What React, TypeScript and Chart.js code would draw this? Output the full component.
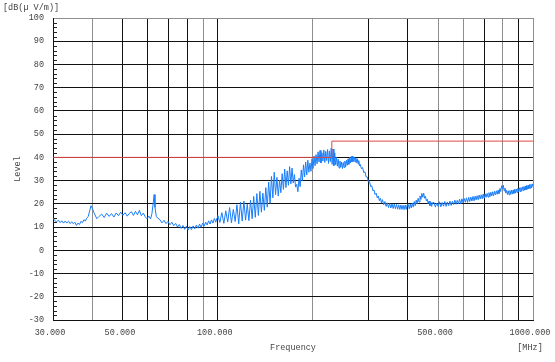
import React, { useEffect, useRef } from "react";
import { Chart, registerables } from "chart.js";

Chart.register(...registerables);

// ---- axis definitions ----
const X_TICKS = [30, 40, 50, 60, 70, 80, 90, 100, 200, 300, 400, 500, 600, 700, 800, 900, 1000];
const X_LABELED = [30, 50, 100, 500, 1000];
const X_GRAY = [40, 90, 200, 500, 600, 800, 1000];
const Y_MIN = -30;
const Y_MAX = 100;
const Y_STEP = 10;
const Y_MINOR_STEP = 2;

// ---- limit line (MHz, dBuV/m) ----
const LIMIT_FREQ = [30, 230, 230, 1000];
const LIMIT_LEVEL = [40, 40, 47, 47];

// ---- measured trace, segment by segment (MHz, dBuV/m) ----
const FREQ_A = [30, 30.4, 30.8, 31.2, 31.6, 32, 32.4, 32.8, 33.2, 33.6, 34, 34.4, 34.8, 35.2, 35.6, 36, 36.4, 36.8, 37.2, 37.6, 38, 38.4, 38.8, 39.2, 39.6, 40, 40.4, 40.8, 41.3];
const LEVEL_A = [13.8, 12.8, 12.2, 13.0, 11.9, 12.7, 11.7, 12.6, 11.8, 12.5, 11.5, 12.3, 11.4, 12.1, 10.7, 11.7, 11.1, 12.5, 11.9, 13.2, 12.6, 13.9, 14.5, 16.9, 19.2, 18.0, 16.4, 15.2, 13.6];

const FREQ_B = [42, 42.8, 43.6, 44.4, 45.2, 46, 46.8, 47.6, 48.4, 49.2, 50, 50.8, 51.6, 52.4, 53.2, 54, 54.8, 55.6, 56.4, 57.2, 58, 58.8, 59.6, 60.4, 61.2, 61.8, 62.4, 62.8, 63.2, 63.8, 64.5];
const LEVEL_B = [14.6, 15.6, 14.1, 16.0, 14.6, 15.8, 14.3, 16.1, 14.9, 16.4, 15.1, 16.2, 14.7, 15.9, 16.6, 15.0, 16.8, 15.3, 17.2, 14.9, 16.0, 14.5, 13.6, 14.7, 13.5, 15.8, 20.5, 24.0, 18.5, 14.6, 13.8];

const FREQ_C = [65.5, 66.5, 67.5, 68.5, 69.5, 70.5, 71.5, 72.5, 73.5, 74.5, 75.5, 76.5, 77.5, 78.5, 79.5, 80.5, 81.5, 82.5, 83.5, 84.5, 85.5, 86.5, 87.5, 88.5, 89.5, 90.5, 91.5, 92.5, 93.5, 94.5, 95.5, 96.5, 97.5, 98.5, 99.5];
const LEVEL_C = [13.2, 11.8, 12.9, 11.5, 12.4, 11.0, 12.1, 10.6, 11.6, 10.0, 11.1, 9.4, 10.7, 9.0, 10.4, 8.7, 10.2, 8.9, 10.5, 9.2, 10.9, 9.5, 11.3, 9.9, 11.7, 10.4, 12.1, 10.9, 12.7, 11.3, 13.1, 11.7, 13.7, 12.1, 14.0];

const FREQ_D = [100.0, 101.5, 103.0, 104.5, 106.0, 107.5, 109.0, 110.5, 112.0, 113.5, 115.0, 116.5, 118.0, 119.5, 121.0, 122.5, 124.0, 125.5, 127.0, 128.5, 130.0, 131.5, 133.0, 134.5, 136.0, 137.5, 139.0, 140.5, 142.0, 143.5, 145.0, 146.5, 148.0, 149.5, 151.0, 152.5, 154.0, 155.5, 157.0, 158.5, 160.0, 161.5, 163.0, 164.5, 166.0, 167.5, 169.0, 170.5, 172.0, 173.5, 175.0, 176.5, 178.0, 179.5, 181.0, 182.5, 184.0, 185.5, 187.0, 188.5, 190.0, 191.5, 193.0, 194.5, 196.0, 197.5, 199.0, 200.5, 202.0, 203.5, 205.0, 206.5, 208.0, 209.5, 211.0, 212.5, 214.0, 215.5, 217.0, 218.5, 220.0, 221.5, 223.0, 224.5, 226.0, 227.5, 229.0, 230.5, 232.0, 233.5, 235.0, 236.5];
const LEVEL_D = [15.0, 12.0, 16.2, 11.6, 17.0, 12.2, 18.4, 11.8, 17.6, 12.4, 19.6, 11.4, 20.8, 12.6, 21.2, 13.0, 19.8, 12.8, 21.6, 13.6, 23.2, 14.2, 24.4, 15.0, 25.4, 16.4, 24.6, 17.2, 27.0, 18.6, 29.4, 20.2, 31.8, 22.6, 33.6, 24.0, 31.4, 23.4, 30.2, 24.8, 33.0, 26.2, 35.0, 27.0, 34.2, 28.0, 36.0, 28.6, 35.4, 29.0, 32.6, 27.2, 28.4, 25.2, 31.0, 27.4, 34.6, 30.0, 36.8, 31.6, 38.0, 32.4, 38.8, 33.6, 37.6, 34.0, 39.4, 35.2, 40.6, 36.4, 41.2, 37.2, 42.4, 38.0, 43.0, 37.6, 42.0, 38.4, 43.2, 37.8, 42.6, 38.6, 43.4, 37.4, 42.8, 38.2, 44.0, 37.0, 43.6, 36.4, 42.0, 36.8];

const FREQ_E = [238, 239.5, 241, 242.5, 244, 245.5, 247, 248.5, 250, 251.5, 253, 254.5, 256, 257.5, 259, 260.5, 262, 263.5, 265, 266.5, 268, 269.5, 271, 272.5, 274, 275.5, 277, 278.5, 280, 281.5];
const LEVEL_E = [40.0, 36.2, 39.2, 35.4, 38.4, 35.8, 38.0, 35.2, 37.8, 35.6, 38.4, 36.0, 38.8, 36.6, 39.4, 37.0, 40.0, 37.6, 40.4, 38.0, 40.6, 38.2, 40.2, 38.0, 39.8, 37.8, 39.4, 37.2, 38.6, 36.4];

const FREQ_F = [283, 285.5, 288, 290.5, 293, 295.5, 298, 300.5, 303, 305.5, 308, 310.5, 313, 315.5, 318, 320.5, 323, 325.5, 328, 330.5, 333, 336, 339, 342, 345, 348, 351, 354, 357, 360, 363, 366, 369, 372, 375, 378, 381, 384, 387, 390, 393, 396, 399];
const LEVEL_F = [37.0, 35.2, 35.6, 33.4, 33.8, 31.6, 31.6, 29.4, 29.6, 27.4, 27.8, 25.6, 26.0, 24.0, 24.6, 22.6, 23.4, 21.4, 22.4, 20.4, 21.8, 19.6, 21.0, 18.9, 20.4, 18.4, 20.2, 18.2, 20.0, 18.0, 19.9, 17.9, 19.8, 17.7, 19.6, 17.6, 19.5, 17.6, 19.4, 17.5, 19.5, 17.6, 19.6];

const FREQ_G = [402, 405, 408, 411, 414, 417, 420, 423, 426, 429, 432, 435, 438, 441, 444, 447, 450, 453, 456, 459, 462, 465, 468, 471, 474, 477, 480];
const LEVEL_G = [19.8, 17.9, 19.9, 18.2, 20.3, 18.6, 21.0, 19.2, 21.6, 20.0, 22.4, 20.8, 23.4, 21.9, 24.5, 22.8, 24.6, 22.4, 23.2, 21.2, 22.0, 20.1, 21.2, 19.2, 20.8, 18.9, 20.5];

const FREQ_H = [485, 490, 495, 500, 505, 510, 515, 520, 525, 530, 535, 540, 545, 550, 555, 560, 565, 570, 575, 580, 585, 590, 595, 600, 605, 610, 615, 620, 625, 630, 635, 640, 645, 650, 655, 660, 665, 670, 675, 680, 685, 690, 695, 700, 705, 710, 715, 720, 725, 730, 735, 740, 745, 750, 755, 760, 765, 770, 775, 780, 785, 790, 795, 800, 805, 810, 815, 820, 825, 830, 835, 840, 845, 850, 855, 860, 865, 870, 875, 880, 885, 890, 895, 900, 905, 910, 915, 920, 925, 930, 935, 940, 945, 950, 955, 960, 965, 970, 975, 980, 985, 990, 995, 1000];
const LEVEL_H = [20.6, 18.6, 20.3, 18.9, 20.9, 18.7, 20.6, 19.0, 21.0, 18.9, 20.8, 19.2, 21.2, 19.3, 21.1, 19.7, 21.6, 19.8, 21.5, 20.1, 22.0, 20.0, 22.2, 20.4, 22.3, 20.7, 22.6, 20.6, 22.8, 21.0, 22.9, 21.2, 23.2, 21.3, 23.3, 21.7, 23.5, 21.8, 23.8, 22.1, 23.9, 22.2, 24.2, 22.4, 24.3, 22.8, 24.5, 22.9, 24.8, 23.1, 25.0, 23.4, 25.2, 23.5, 25.4, 23.9, 25.6, 24.1, 25.9, 24.4, 26.6, 25.3, 27.8, 26.4, 28.0, 25.6, 26.8, 24.6, 25.8, 24.0, 25.6, 23.9, 25.7, 24.1, 25.9, 24.2, 26.0, 24.5, 26.3, 24.6, 26.4, 24.9, 26.6, 25.1, 26.9, 25.3, 27.0, 25.4, 27.3, 25.7, 27.4, 25.9, 27.7, 26.0, 27.9, 26.3, 28.0, 26.5, 28.3, 26.7, 28.4, 26.9, 28.6, 27.4];

const TRACE_FREQ = [...FREQ_A, ...FREQ_B, ...FREQ_C, ...FREQ_D, ...FREQ_E, ...FREQ_F, ...FREQ_G, ...FREQ_H];
const TRACE_LEVEL = [...LEVEL_A, ...LEVEL_B, ...LEVEL_C, ...LEVEL_D, ...LEVEL_E, ...LEVEL_F, ...LEVEL_G, ...LEVEL_H];

const FONT_FAMILY = "'Liberation Mono', 'Courier New', monospace";
const TEXT_COLOR = "#444";

const unitsPlugin = {
  id: "unitsAndMinorTicks",
  beforeDatasetsDraw(chart: any) {
    const { ctx, chartArea, scales } = chart;
    const y = scales.y;
    ctx.save();
    ctx.strokeStyle = "#222";
    ctx.lineWidth = 1;
    ctx.beginPath();
    for (let v = Y_MIN; v <= Y_MAX; v += Y_MINOR_STEP) {
      if (v % Y_STEP === 0) continue;
      const py = Math.round(y.getPixelForValue(v)) + 0.5;
      ctx.moveTo(chartArea.left, py);
      ctx.lineTo(chartArea.left + 4, py);
    }
    ctx.stroke();
    ctx.restore();
  },
  afterDraw(chart: any) {
    const { ctx } = chart;
    ctx.save();
    ctx.fillStyle = TEXT_COLOR;
    ctx.font = `8.5px ${FONT_FAMILY}`;
    ctx.textBaseline = "middle";
    ctx.textAlign = "left";
    ctx.fillText("[dB(\u00b5 V/m)]", 3, 8);
    ctx.textAlign = "center";
    ctx.fillText("[MHz]", 530, 348);
    ctx.restore();
  },
};

export default function App() {
  const ref = useRef<HTMLCanvasElement | null>(null);

  useEffect(() => {
    if (!ref.current) return;
    const trace = TRACE_FREQ.map((f, i) => ({ x: f, y: TRACE_LEVEL[i] }));
    const limit = LIMIT_FREQ.map((f, i) => ({ x: f, y: LIMIT_LEVEL[i] }));
    const chart = new Chart(ref.current, {
      type: "line",
      data: {
        datasets: [
          {
            label: "Limit",
            data: limit,
            borderColor: "#e04848",
            borderWidth: 1,
            pointRadius: 0,
            tension: 0,
          },
          {
            label: "Level",
            data: trace,
            borderColor: "rgb(24,125,250)",
            borderWidth: 1,
            pointRadius: 0,
            tension: 0,
          },
        ],
      },
      plugins: [unitsPlugin],
      options: {
        animation: false,
        responsive: false,
        devicePixelRatio: 1,
        layout: { padding: { top: 18, right: 22, left: 0, bottom: 0 } },
        plugins: {
          legend: { display: false },
          tooltip: { enabled: false },
        },
        scales: {
          x: {
            type: "logarithmic",
            min: 30,
            max: 1000,
            afterBuildTicks: (scale: any) => {
              scale.ticks = X_TICKS.map((v) => ({ value: v }));
            },
            afterFit: (scale: any) => {
              scale.height = 42;
              scale.paddingLeft = 0;
              scale.paddingRight = 0;
            },
            ticks: {
              autoSkip: false,
              maxRotation: 0,
              minRotation: 0,
              padding: 8,
              labelOffset: -3,
              color: TEXT_COLOR,
              font: { family: FONT_FAMILY, size: 8.5 },
              callback: (v: any) => (X_LABELED.includes(Number(v)) ? Number(v).toFixed(3) : ""),
            },
            grid: {
              drawTicks: false,
              color: (c: any) => (X_GRAY.includes(c.tick?.value) ? "#8e8e8e" : "#111"),
              lineWidth: 1,
            },
            border: { display: true, color: "#111", width: 1 },
            title: {
              display: true,
              text: "Frequency",
              color: TEXT_COLOR,
              font: { family: FONT_FAMILY, size: 8.5 },
              padding: { top: 0, bottom: 9 },
            },
          },
          y: {
            type: "linear",
            min: Y_MIN,
            max: Y_MAX,
            afterFit: (scale: any) => {
              scale.width = 53;
              scale.paddingTop = 0;
              scale.paddingBottom = 0;
            },
            ticks: {
              stepSize: Y_STEP,
              padding: 9,
              color: TEXT_COLOR,
              font: { family: FONT_FAMILY, size: 8.5 },
            },
            grid: {
              drawTicks: false,
              color: (c: any) => (c.tick?.value === Y_MAX ? "#8e8e8e" : "#111"),
              lineWidth: 1,
            },
            border: { display: true, color: "#111", width: 1 },
            title: {
              display: true,
              text: "Level",
              color: TEXT_COLOR,
              font: { family: FONT_FAMILY, size: 8.5 },
              padding: { top: 13, bottom: 0 },
            },
          },
        },
      },
    } as any);
    return () => chart.destroy();
  }, []);

  return (
    <div style={{ position: "fixed", left: 0, top: 0, width: 555, height: 362, background: "#fff" }}>
      <canvas ref={ref} width={555} height={362} style={{ display: "block" }} />
    </div>
  );
}
